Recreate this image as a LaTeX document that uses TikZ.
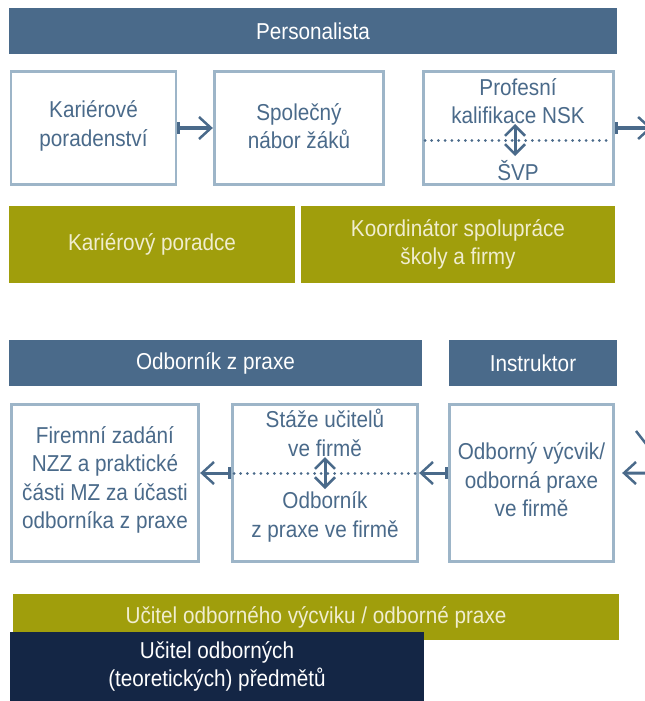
\documentclass[tikz,border=0pt]{standalone}
\usepackage{fontspec}
\setmainfont[FakeStretch=0.9]{Liberation Sans}
\usetikzlibrary{arrows.meta}
\definecolor{steel}{HTML}{4A6A8A}
\definecolor{boxline}{HTML}{9DB5C8}
\definecolor{olivebar}{HTML}{A09E0C}
\definecolor{navybar}{HTML}{142645}
\definecolor{cream}{HTML}{F0EDCF}
\begin{document}
\begin{tikzpicture}[x=1bp,y=-1bp,
  fnt/.style={font=\fontsize{23bp}{28.5bp}\selectfont, align=center},
  bar/.style={rectangle, inner sep=0pt, outer sep=0pt, fnt},
  hdr/.style={bar, fill=steel, text=white},
  olv/.style={bar, fill=olivebar, text=cream},
  nvy/.style={bar, fill=navybar, text=white},
  card/.style={rectangle, draw=boxline, line width=2.8bp, fill=white, inner sep=0pt},
  lbl/.style={fnt, text=steel, inner sep=0pt},
  arr/.style={draw=steel, line width=3bp, {Bar[width=12bp,line width=3bp]}-{Straight Barb[length=12bp,width=22bp,line width=2.5bp]}},
  dbl/.style={draw=steel, line width=3bp, {Straight Barb[length=10bp,width=20bp,line width=2.5bp]}-{Straight Barb[length=10bp,width=20bp,line width=2.5bp]}},
  dotline/.style={draw=steel, line width=3bp, line cap=round, dash pattern=on 0.01bp off 6.7bp}
]
\useasboundingbox (0,0) rectangle (645,701);
\clip (0,0) rectangle (645,701);

% top header
\node[hdr, minimum width=608bp, minimum height=46bp] (h1) at (313,31) {Personalista};

% first row boxes
\node[card, minimum width=165bp, minimum height=113bp] (b1) at (93.5,128) {};
\node[lbl] (t1) at (93.5,126) {Kariérové\\poradenství};
\node[card, minimum width=169.5bp, minimum height=113bp] (b2) at (299,128) {};
\node[lbl] (t2) at (299,126) {Společný\\nábor žáků};
\node[card, minimum width=190.5bp, minimum height=113bp] (b3) at (518.5,128) {};
\node[lbl] (t3a) at (518,101) {Profesní\\kalifikace NSK};
\node[lbl] (t3b) at (518,171) {ŠVP};

\coordinate (d3a) at (425,140);
\coordinate (d3b) at (608,140);
\draw[dotline] (d3a) -- (d3b);
\coordinate (u3a) at (515,124);
\coordinate (u3b) at (515,156);
\draw[dbl] (u3a) -- (u3b);

\draw[arr] (b1.east) -- (b2.west);
\coordinate (o1) at (652,128);
\draw[arr] (b3.east) -- (o1);

% olive bars
\node[olv, minimum width=286bp, minimum height=77bp] (k1) at (152,244.5) {Kariérový poradce};
\node[olv, minimum width=314bp, minimum height=77bp] (k2) at (458,244.5) {Koordinátor spolupráce\\školy a firmy};

% second headers
\node[hdr, minimum width=413bp, minimum height=46bp] (h2) at (215.5,363) {Odborník z praxe};
\node[hdr, minimum width=168bp, minimum height=46bp] (h3) at (533,363) {Instruktor};

% second row boxes
\node[card, minimum width=187.5bp, minimum height=157.5bp] (bA) at (105,483) {};
\node[lbl] (tA) at (105,480) {Firemní zadání\\NZZ a praktické\\části MZ za účasti\\odborníka z praxe};
\node[card, minimum width=185.5bp, minimum height=157.5bp] (bB) at (325,483) {};
\node[lbl] (tBa) at (325,433) {Stáže učitelů\\ve firmě};
\node[lbl] (tBb) at (325,517) {Odborník\\z praxe ve firmě};
\node[card, minimum width=164.5bp, minimum height=157.5bp] (bC) at (531.5,483) {};
\node[lbl] (tC) at (531.5,480) {Odborný výcvik/\\odborná praxe\\ve firmě};

\coordinate (dBa) at (234,473);
\coordinate (dBb) at (418,473);
\draw[dotline] (dBa) -- (dBb);
\coordinate (uBa) at (325,457);
\coordinate (uBb) at (325,489);
\draw[dbl] (uBa) -- (uBb);

\draw[arr] ([yshift=10bp]bB.west) -- ([yshift=10bp]bA.east);
\draw[arr] ([yshift=10bp]bC.west) -- ([yshift=10bp]bB.east);
\coordinate (o2) at (665,473);
\draw[arr, shorten >=7bp] (o2) -- ([yshift=10bp]bC.east);
\coordinate (g1) at (636,431);
\coordinate (g2) at (650,449);
\draw[steel, line width=2.5bp] (g1) -- (g2);

% bottom bars
\node[olv, minimum width=606bp, minimum height=46bp] (k3) at (316,617) {Učitel odborného výcviku / odborné praxe};
\node[nvy, minimum width=414bp, minimum height=69bp] (n1) at (217,666.5) {Učitel odborných\\(teoretických) předmětů};
\end{tikzpicture}
\end{document}
